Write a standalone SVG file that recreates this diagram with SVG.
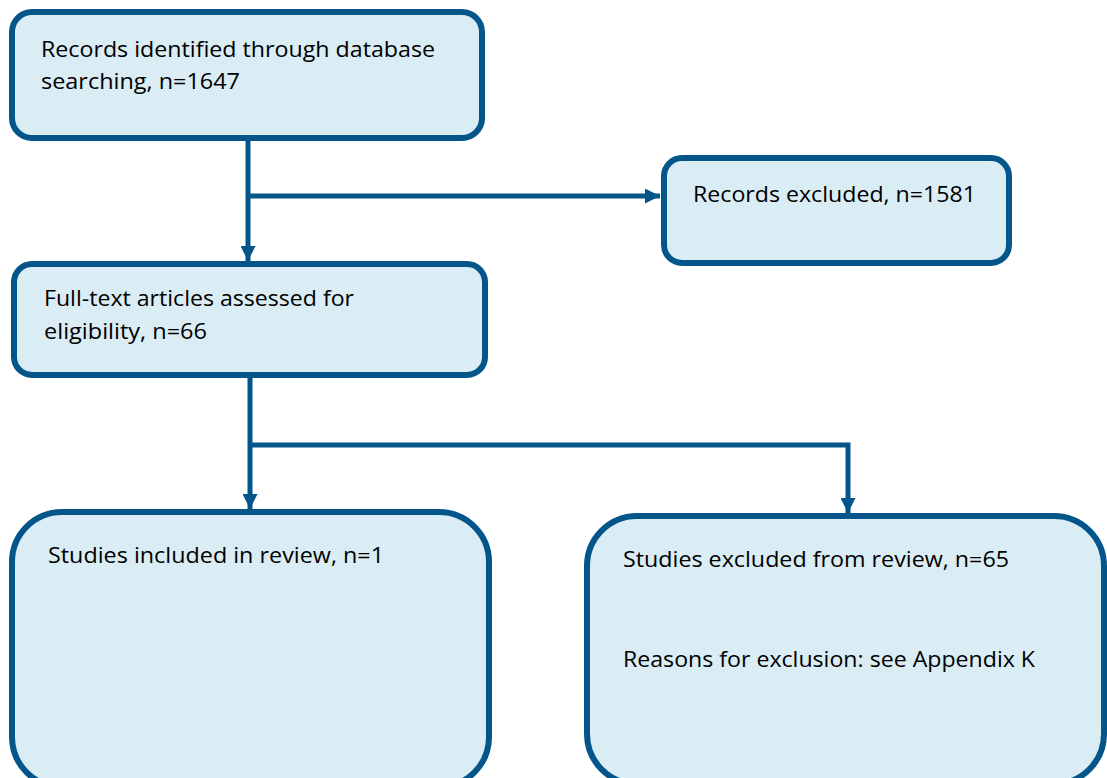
<svg xmlns="http://www.w3.org/2000/svg" width="1107" height="778" viewBox="0 0 1107 778">
<style>
.box{fill:#daedf4;stroke:#03558a;stroke-width:6}
.ln{fill:none;stroke:#03558a;stroke-width:5}
text{font-family:"Open Sans","Liberation Sans",sans-serif;font-size:22.5px;fill:#000}
</style>
<defs>
<marker id="ah" viewBox="0 0 10 10" refX="10" refY="5" markerWidth="3" markerHeight="3" orient="auto" markerUnits="strokeWidth">
<path d="M0,0 L10,5 L0,10 z" fill="#03558a"/>
</marker>
</defs>
<g id="connectors">
<path class="ln" d="M248,141 V261" marker-end="url(#ah)"/>
<path class="ln" d="M248,196 H660" marker-end="url(#ah)"/>
<path class="ln" d="M250,378 V509" marker-end="url(#ah)"/>
<path class="ln" d="M250,445 H848 V513" marker-end="url(#ah)"/>
</g>
<g id="n1">
<rect class="box" x="12" y="12" width="470" height="126" rx="20"/>
<text x="41" y="57" textLength="394" lengthAdjust="spacingAndGlyphs">Records identified through database</text>
<text x="41" y="89" textLength="199" lengthAdjust="spacingAndGlyphs">searching, n=1647</text>
</g>
<g id="n2">
<rect class="box" x="664" y="158" width="345" height="105" rx="18"/>
<text x="693" y="202" textLength="283" lengthAdjust="spacingAndGlyphs">Records excluded, n=1581</text>
</g>
<g id="n3">
<rect class="box" x="14" y="264" width="471" height="111" rx="18"/>
<text x="44" y="306" textLength="310" lengthAdjust="spacingAndGlyphs">Full-text articles assessed for</text>
<text x="44" y="339" textLength="163" lengthAdjust="spacingAndGlyphs">eligibility, n=66</text>
</g>
<g id="n4">
<rect class="box" x="12" y="512" width="477" height="275" rx="50"/>
<text x="48" y="563" textLength="336" lengthAdjust="spacingAndGlyphs">Studies included in review, n=1</text>
</g>
<g id="n5">
<rect class="box" x="587" y="516" width="517" height="268" rx="50"/>
<text x="623" y="567" textLength="386" lengthAdjust="spacingAndGlyphs">Studies excluded from review, n=65</text>
<text x="623" y="667" textLength="412" lengthAdjust="spacingAndGlyphs">Reasons for exclusion: see Appendix K</text>
</g>
</svg>
